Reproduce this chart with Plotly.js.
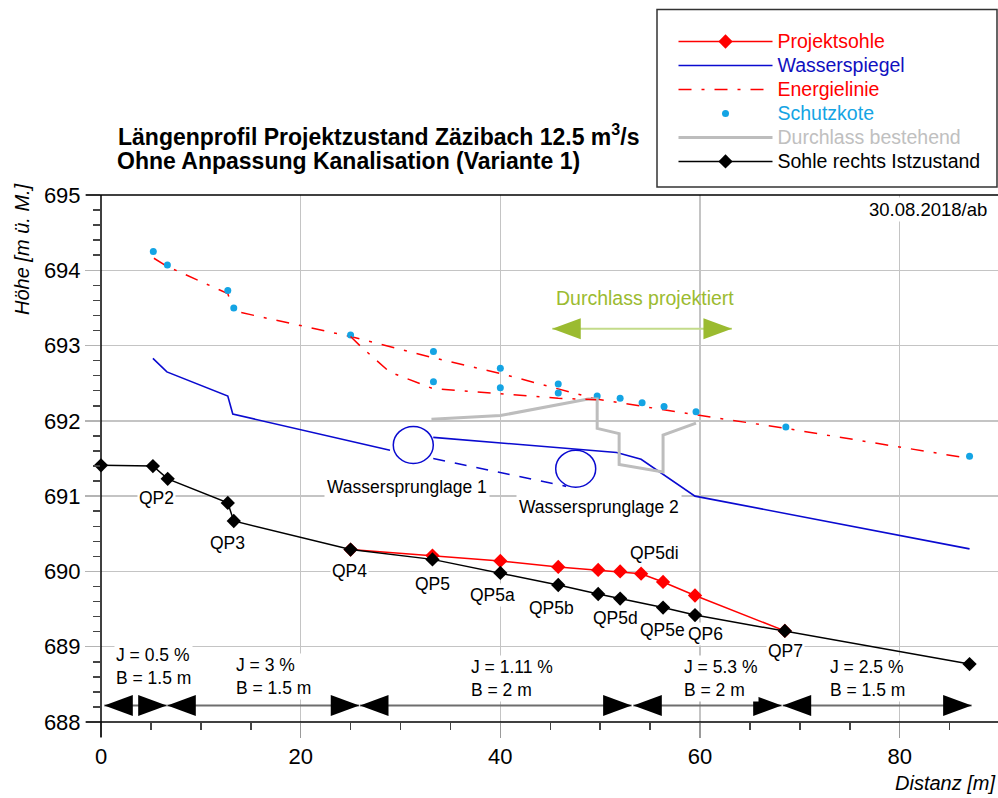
<!DOCTYPE html>
<html>
<head>
<meta charset="utf-8">
<script src="https://cdn.plot.ly/plotly-3.0.1.min.js"></script>
<style>
html,body{margin:0;padding:0;background:#ffffff;}
#chart{width:998px;height:798px;}
</style>
</head>
<body>
<div id="chart"></div>
<script>
// ---------------- DATA ----------------
// Sohle rechts Istzustand (existing right bed)
const sohleIstX = [0, 5.2, 6.68, 12.7, 13.3, 25.0, 33.2, 40.0, 45.8, 49.8, 52.0, 56.3, 59.5, 68.5, 87.0];
const sohleIstY = [691.41, 691.40, 691.23, 690.91, 690.67, 690.29, 690.16, 689.98, 689.82, 689.70, 689.64, 689.52, 689.42, 689.21, 688.77];
// Projektsohle (project bed)
const projSohleX = [25.0, 33.2, 40.0, 45.8, 49.8, 52.0, 54.1, 56.3, 59.5, 68.5];
const projSohleY = [690.29, 690.21, 690.14, 690.06, 690.02, 690.00, 689.97, 689.86, 689.68, 689.21];
// Wasserspiegel (water surface), gap = hydraulic jump
const wspX = [5.2, 6.6, 12.7, 13.2, 28.95, null, 33.28, 51.65, 54.1, 59.5, 87.0];
const wspY = [692.83, 692.65, 692.33, 692.09, 691.61, null, 691.78, 691.58, 691.49, 691.00, 690.30];
// Wasserspiegel for jump position 2 (dashed)
const wspAltX = [33.28, 46.6];
const wspAltY = [691.50, 691.13];
// Energielinie (energy line)
const energieX = [5.3, 6.65, 12.7, 13.3, 25.0, 33.2, 40.0, 45.8, 49.6, 59.6, 68.6, 87.0];
const energieY = [694.16, 694.05, 693.69, 693.46, 693.12, 692.84, 692.63, 692.42, 692.29, 692.08, 691.90, 691.50];
const energieAltX = [25.0, 26.0, 28.9, 33.2, 40.0, 45.8, 49.6];
const energieAltY = [693.12, 692.99, 692.65, 692.43, 692.36, 692.30, 692.28];
// Schutzkote (protection levels)
const schutzX = [5.24, 6.65, 12.7, 13.3, 25.0, 33.3, 33.3, 40.0, 40.0, 45.8, 45.8, 49.7, 52.0, 54.2, 56.4, 59.6, 68.6, 87.0];
const schutzY = [694.25, 694.07, 693.73, 693.50, 693.14, 692.92, 692.52, 692.70, 692.44, 692.49, 692.37, 692.33, 692.30, 692.24, 692.19, 692.12, 691.92, 691.53];
// Durchlass bestehend (existing culvert)
const durchlassX = [33.1, 40.0, 48.8, 49.7, 49.7, 51.9, 51.9, 56.3, 56.3, 59.6];
const durchlassY = [692.02, 692.07, 692.29, 692.29, 691.90, 691.83, 691.42, 691.32, 691.81, 691.97];
// Durchlass projektiert (planned culvert extent)
const durchlassProjX = [45.2, 63.2];
// Wassersprunglage (hydraulic jump locations)
const jumpNames = ['Wassersprunglage 1', 'Wassersprunglage 2'];
const jumpX = [31.28, 47.55];
const jumpY = [691.68, 691.365];
// Cross-section labels
const qpNames = ['QP2', 'QP3', 'QP4', 'QP5', 'QP5a', 'QP5b', 'QP5d', 'QP5e', 'QP6', 'QP7', 'QP5di'];
// Reach sections (slope J, width B)
const secStart = [0.33, 6.64, 25.94, 53.32, 68.28];
const secEnd = [6.58, 25.87, 53.15, 68.18, 87.21];
const secJ = ['0.5 %', '3 %', '1.11 %', '5.3 %', '2.5 %'];
const secB = ['1.5 m', '1.5 m', '2 m', '2 m', '1.5 m'];
// Axis ticks
const xTicks = [0, 20, 40, 60, 80];
const yTicks = [688, 689, 690, 691, 692, 693, 694, 695];

// ---------------- LAYOUT HELPERS ----------------
const FONT = 'Liberation Sans, Arial, Helvetica, sans-serif';
const W = 998, H = 798;
const M = {l: 101, r: 0, t: 195, b: 76};
const plotW = W - M.l - M.r, plotH = H - M.t - M.b;
const xRange = [0, 89.85], yRange = [688, 695];
const dX = (xRange[1] - xRange[0]) / plotW;   // data units per px
const dY = (yRange[1] - yRange[0]) / plotH;
const pX = px => (px - M.l) / plotW;           // px -> paper
const pY = py => (H - M.b - py) / plotH;
const datX = px => xRange[0] + (px - M.l) * dX;  // px -> data
const datY = py => yRange[1] - (py - M.t) * dY;

// label placement (px centres)
const qpLabelPx = [[156, 498], [227.5, 543.3], [349.7, 571], [432.2, 584.2], [492, 595], [551.3, 607.5],
                   [615, 618.3], [662.5, 630], [705.8, 634.3], [785.5, 651], [654.5, 553.3]];
const jumpLabelPx = [[406.8, 486.7], [598.7, 506.7]];
const secLabelPx = [[114, 666.7], [234, 676.7], [469, 678.5], [682, 678.5], [828, 678.5]];
const secLevelPx = 705.5;
const arrowLenPx = 28.5, arrowHalfPx = 10.5;

const RED = '#ff0000', BLUE = '#0a0ad0', CYAN = '#14a4e4', GREY = '#bdbdbd', GREEN = '#9bbb30';

function legendName(txt, col) {
  return '<span style="color:' + col + ';font-size:19.5px">' + txt + '</span>';
}

// ---------------- TRACES ----------------
const traces = [
  {x: projSohleX, y: projSohleY, name: legendName('Projektsohle', RED), type: 'scatter', mode: 'lines+markers',
   line: {color: RED, width: 1.5}, marker: {symbol: 'diamond', size: 11, color: RED}, cliponaxis: false},
  {x: wspX, y: wspY, name: legendName('Wasserspiegel', '#1010c0'), type: 'scatter', mode: 'lines',
   line: {color: BLUE, width: 1.6}, connectgaps: false},
  {x: energieX, y: energieY, name: legendName('Energielinie', RED), type: 'scatter', mode: 'lines',
   line: {color: RED, width: 1.5, dash: '13px,10px,3px,10px'}},
  {x: schutzX, y: schutzY, name: legendName('Schutzkote', CYAN), type: 'scatter', mode: 'markers',
   marker: {color: CYAN, size: 7}, cliponaxis: false},
  {x: durchlassX, y: durchlassY, name: legendName('Durchlass bestehend', '#c0c0c0'), type: 'scatter', mode: 'lines',
   line: {color: GREY, width: 3}},
  {x: sohleIstX, y: sohleIstY, name: legendName('Sohle rechts Istzustand', '#000000'), type: 'scatter', mode: 'lines+markers',
   line: {color: '#000000', width: 1.5}, marker: {symbol: 'diamond', size: 11, color: '#000000'}, cliponaxis: false},
  {x: wspAltX, y: wspAltY, showlegend: false, type: 'scatter', mode: 'lines',
   line: {color: BLUE, width: 1.6, dash: '12px,10px'}},
  {x: energieAltX, y: energieAltY, showlegend: false, type: 'scatter', mode: 'lines',
   line: {color: RED, width: 1.5, dash: '13px,10px,3px,10px'}}
];

// ---------------- SHAPES ----------------
const shapes = [];
// frame lines (black, extended beyond the axes like the original)
shapes.push({type: 'line', xref: 'paper', yref: 'paper', x0: pX(86), x1: 1, y0: 1, y1: 1, line: {color: '#000', width: 1.5}, layer: 'above'});
shapes.push({type: 'line', xref: 'paper', yref: 'paper', x0: pX(86), x1: 1, y0: 0, y1: 0, line: {color: '#000', width: 1.5}, layer: 'above'});
shapes.push({type: 'line', xref: 'paper', yref: 'paper', x0: 0, x1: 0, y0: pY(737), y1: 1, line: {color: '#000', width: 1.5}, layer: 'above'});
// legend frame
shapes.push({type: 'rect', xref: 'paper', yref: 'paper', x0: pX(657), x1: pX(997), y0: pY(187), y1: pY(9.5),
  line: {color: '#333', width: 1.5}, fillcolor: 'rgba(0,0,0,0)', layer: 'above'});

function arrowHead(tipX, y, dir, color) {
  const L = arrowLenPx * dX, h = arrowHalfPx * dY;
  const bx = tipX - dir * L;
  return {type: 'path', xref: 'x', yref: 'y', layer: 'above',
    path: 'M' + tipX + ',' + y + ' L' + bx + ',' + (y + h) + ' L' + bx + ',' + (y - h) + ' Z',
    fillcolor: color, line: {width: 0}};
}
const secY = datY(secLevelPx);
for (let i = 0; i < secStart.length; i++) {
  shapes.push({type: 'line', xref: 'x', yref: 'y', x0: secStart[i], x1: secEnd[i], y0: secY, y1: secY,
    line: {color: '#6e6e6e', width: 2}, layer: 'above'});
  shapes.push(arrowHead(secStart[i], secY, -1, '#000'));
  shapes.push(arrowHead(secEnd[i], secY, 1, '#000'));
}
// Durchlass projektiert arrow
const projY = datY(328.7);
shapes.push({type: 'line', xref: 'x', yref: 'y', x0: durchlassProjX[0], x1: durchlassProjX[1], y0: projY, y1: projY,
  line: {color: '#c3db8a', width: 2}, layer: 'above'});
shapes.push(arrowHead(durchlassProjX[0], projY, -1, GREEN));
shapes.push(arrowHead(durchlassProjX[1], projY, 1, GREEN));
// hydraulic jump circles
const rx = 20 * dX, ry = 18.5 * dY;
for (let i = 0; i < jumpX.length; i++) {
  shapes.push({type: 'circle', xref: 'x', yref: 'y', x0: jumpX[i] - rx, x1: jumpX[i] + rx, y0: jumpY[i] - ry, y1: jumpY[i] + ry,
    line: {color: BLUE, width: 1.5}, fillcolor: 'rgba(0,0,0,0)', layer: 'above'});
}

// ---------------- ANNOTATIONS ----------------
const ann = [];
ann.push({xref: 'paper', yref: 'paper', x: pX(114.5), y: pY(161), xanchor: 'left', yanchor: 'middle', showarrow: false,
  text: '<b>Ohne Anpassung Kanalisation (Variante 1)</b>', font: {family: FONT, size: 23, color: '#000'}});
ann.push({xref: 'paper', yref: 'paper', x: pX(22), y: pY(249), xanchor: 'center', yanchor: 'middle', showarrow: false,
  textangle: -90, text: '<i>Höhe [m ü. M.]</i>', font: {family: FONT, size: 20, color: '#000'}});
ann.push({xref: 'paper', yref: 'paper', x: pX(997), y: pY(783), xanchor: 'right', yanchor: 'middle', showarrow: false,
  text: '<i>Distanz [m]</i>', font: {family: FONT, size: 20, color: '#000'}});
ann.push({xref: 'paper', yref: 'paper', x: pX(989), y: pY(209), xanchor: 'right', yanchor: 'middle', showarrow: false,
  text: '30.08.2018/ab', bgcolor: '#ffffff', borderpad: 1, font: {family: FONT, size: 18.5, color: '#000'}});
ann.push({xref: 'x', yref: 'y', x: (durchlassProjX[0] + durchlassProjX[1]) / 2 + 0.3, y: datY(298), xanchor: 'center', yanchor: 'middle',
  showarrow: false, text: 'Durchlass projektiert', font: {family: FONT, size: 19.5, color: GREEN}});
for (let i = 0; i < qpNames.length; i++) {
  ann.push({xref: 'x', yref: 'y', x: datX(qpLabelPx[i][0]), y: datY(qpLabelPx[i][1]), xanchor: 'center', yanchor: 'middle',
    showarrow: false, text: qpNames[i], bgcolor: '#ffffff', borderpad: 1, font: {family: FONT, size: 17.5, color: '#000'}});
}
for (let i = 0; i < jumpNames.length; i++) {
  ann.push({xref: 'x', yref: 'y', x: datX(jumpLabelPx[i][0]), y: datY(jumpLabelPx[i][1]), xanchor: 'center', yanchor: 'middle',
    showarrow: false, text: jumpNames[i], bgcolor: '#ffffff', borderpad: 2, font: {family: FONT, size: 17.5, color: '#000'}});
}
for (let i = 0; i < secJ.length; i++) {
  ann.push({xref: 'x', yref: 'y', x: datX(secLabelPx[i][0]), y: datY(secLabelPx[i][1]), xanchor: 'left', yanchor: 'middle',
    align: 'left', showarrow: false, text: 'J = ' + secJ[i] + '<br>B = ' + secB[i], bgcolor: '#ffffff', borderpad: 1,
    font: {family: FONT, size: 17.5, color: '#000'}});
}

// ---------------- LAYOUT ----------------
const layout = {
  width: W, height: H,
  margin: M,
  paper_bgcolor: '#ffffff', plot_bgcolor: '#ffffff',
  font: {family: FONT, color: '#000'},
  title: {text: '<b>Längenprofil Projektzustand Zäzibach 12.5 m<sup>3</sup>/s</b>', xref: 'container', yref: 'container',
    x: 118 / W, xanchor: 'left', y: 1 - 136.5 / H, yanchor: 'middle', font: {family: FONT, size: 23, color: '#000'}},
  xaxis: {range: xRange, tickvals: xTicks, ticks: 'outside', ticklen: 15, tickwidth: 1.5, tickcolor: '#9a9a9a',
    showgrid: true, gridcolor: '#c4c4c4', gridwidth: 1.5, zeroline: false, showline: false,
    tickfont: {family: FONT, size: 22, color: '#000'},
    minor: {dtick: 5, ticks: 'outside', ticklen: 7, tickwidth: 1.5, tickcolor: '#444', showgrid: false}},
  yaxis: {range: yRange, tickvals: yTicks, ticks: 'outside', ticklen: 15, tickwidth: 1.5, tickcolor: '#b4b4b4',
    showgrid: true, gridcolor: '#c4c4c4', gridwidth: 1.5, zeroline: false, showline: false,
    tickfont: {family: FONT, size: 22, color: '#000'},
    minor: {dtick: 0.2, ticks: 'outside', ticklen: 7, tickwidth: 1.5, tickcolor: '#444', showgrid: false}},
  showlegend: true,
  legend: {x: pX(673.5), xanchor: 'left', y: pY(24.5), yanchor: 'top', bgcolor: 'rgba(0,0,0,0)', borderwidth: 0,
    itemwidth: 94, font: {family: FONT, size: 16.15, color: '#000'}, traceorder: 'normal'},
  shapes: shapes,
  annotations: ann
};

Plotly.newPlot('chart', traces, layout, {displayModeBar: false, staticPlot: true});
</script>
</body>
</html>
